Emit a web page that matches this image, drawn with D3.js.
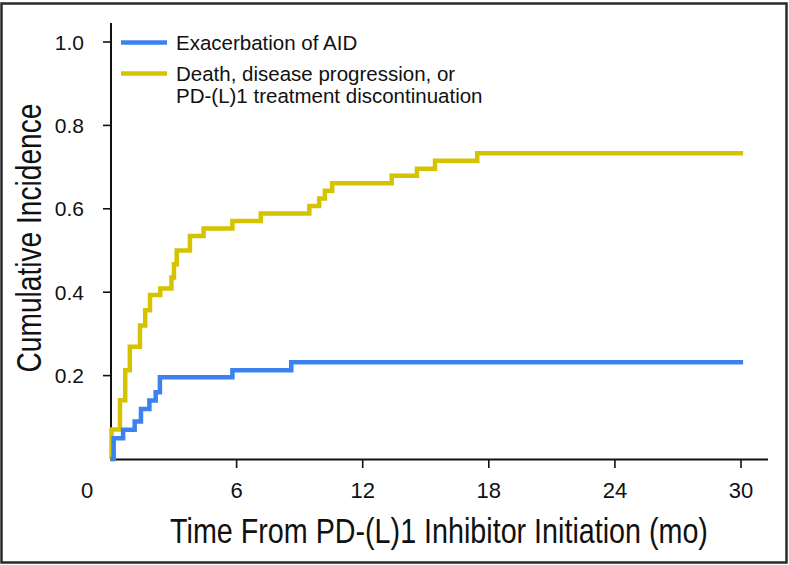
<!DOCTYPE html>
<html>
<head>
<meta charset="utf-8">
<script src="https://cdn.jsdelivr.net/npm/d3@7"></script>
<style>
  html, body { margin: 0; padding: 0; background: #fff; }
  svg { display: block; }
  text { font-family: "Liberation Sans", Arial, Helvetica, sans-serif; fill: #111; }
</style>
</head>
<body>
<svg id="chart" width="789" height="565"></svg>
<script>
// ---- data ----
const xTicks = [0, 6, 12, 18, 24, 30];
const yTicks = [0.2, 0.4, 0.6, 0.8, 1.0];

const aidTimes  = [0, 0.15, 0.6, 1.15, 1.45, 1.85, 2.15, 2.35, 5.8, 8.6, 30.1];
const aidValues = [0, 0.05, 0.07, 0.09, 0.12, 0.14, 0.16, 0.196, 0.213, 0.232, 0.232];

const compTimes  = [0, 0.05, 0.45, 0.7, 0.92, 1.4, 1.65, 1.88, 2.37, 2.9, 3.02, 3.15, 3.78, 4.43, 5.8, 7.15, 9.46, 9.93, 10.2, 10.55, 13.38, 14.58, 15.44, 17.45, 30.1];
const compValues = [0, 0.071, 0.141, 0.213, 0.269, 0.32, 0.357, 0.393, 0.409, 0.435, 0.467, 0.5, 0.535, 0.553, 0.571, 0.589, 0.607, 0.625, 0.643, 0.661, 0.679, 0.696, 0.715, 0.733, 0.733];

const seriesNames = ["Exacerbation of AID", "Death, disease progression, or|PD-(L)1 treatment discontinuation"];
const seriesColors = ["#3b82f0", "#d6c300"];

// ---- layout ----
const svg = d3.select("#chart");
const x = d3.scaleLinear().domain([0, 30]).range([110.5, 741]);
const y = d3.scaleLinear().domain([0, 1]).range([459, 42]);

// frame
svg.append("rect").attr("x", 1.5).attr("y", 3.5).attr("width", 785).attr("height", 559)
  .attr("fill", "none").attr("stroke", "#2a2a2a").attr("stroke-width", 2.5);

// axes
svg.append("line").attr("x1", 111).attr("x2", 111).attr("y1", 23).attr("y2", 460)
  .attr("stroke", "#111").attr("stroke-width", 2);
svg.append("line").attr("x1", 110).attr("x2", 768).attr("y1", 459.5).attr("y2", 459.5)
  .attr("stroke", "#111").attr("stroke-width", 2);

// y ticks
svg.selectAll(".yt").data(yTicks).enter().append("line")
  .attr("x1", 103).attr("x2", 111).attr("y1", d => y(d)).attr("y2", d => y(d))
  .attr("stroke", "#111").attr("stroke-width", 1.6);
svg.selectAll(".yl").data(yTicks).enter().append("text")
  .attr("x", 84).attr("y", d => y(d)).attr("dy", "0.36em")
  .attr("text-anchor", "end").attr("font-size", 21)
  .text(d => d.toFixed(1));

// x ticks
svg.selectAll(".xt").data(xTicks.filter(d => d > 0)).enter().append("line")
  .attr("x1", d => x(d)).attr("x2", d => x(d)).attr("y1", 459).attr("y2", 468)
  .attr("stroke", "#111").attr("stroke-width", 1.6);
svg.selectAll(".xl").data(xTicks).enter().append("text")
  .attr("x", d => d === 0 ? 87 : x(d)).attr("y", 498)
  .attr("text-anchor", "middle").attr("font-size", 22)
  .text(d => d);

// axis titles (condensed face emulated with a horizontal scale)
function condensed(g, txt, targetLen) {
  const t = g.append("text").attr("text-anchor", "middle").attr("font-size", 36).text(txt);
  const len = t.node().getComputedTextLength();
  t.attr("transform", `scale(${targetLen / len},1)`);
}
const gx = svg.append("g").attr("transform", "translate(439,543)");
condensed(gx, "Time From PD-(L)1 Inhibitor Initiation (mo)", 538);
const gy = svg.append("g").attr("transform", "translate(41,238) rotate(-90)");
condensed(gy, "Cumulative Incidence", 269);

// curves
const line = d3.line().x(d => x(d[0])).y(d => y(d[1])).curve(d3.curveStepAfter);
const series = [
  d3.zip(compTimes, compValues),
  d3.zip(aidTimes, aidValues)
];
const colorsDraw = [seriesColors[1], seriesColors[0]];
series.forEach((s, i) => {
  svg.append("path").datum(s).attr("d", line)
    .attr("fill", "none").attr("stroke", colorsDraw[i])
    .attr("stroke-width", 4.5).attr("stroke-linejoin", "miter").attr("stroke-linecap", "butt");
});

// legend
const legendY = [42.5, 73.5];
seriesNames.forEach((name, i) => {
  svg.append("line").attr("x1", 121).attr("x2", 167).attr("y1", legendY[i]).attr("y2", legendY[i])
    .attr("stroke", seriesColors[i]).attr("stroke-width", 4.5);
  const lines = name.split("|");
  lines.forEach((t, j) => {
    svg.append("text").attr("x", 176).attr("y", legendY[i] + 7 + j * 22.5)
      .attr("font-size", 20.5).text(t);
  });
});
</script>
</body>
</html>
